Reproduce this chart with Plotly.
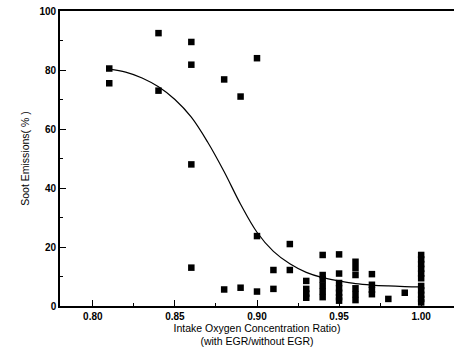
import plotly.graph_objects as go

# Measured points (x = intake O2 concentration ratio, y = soot emissions %)
pts_x = [0.81, 0.81,
         0.84, 0.84,
         0.86, 0.86, 0.86, 0.86,
         0.88, 0.88,
         0.89, 0.89,
         0.90, 0.90, 0.90,
         0.91, 0.91,
         0.92, 0.92,
         0.93, 0.93, 0.93, 0.93,
         0.94, 0.94, 0.94, 0.94, 0.94, 0.94,
         0.95, 0.95, 0.95, 0.95, 0.95, 0.95, 0.95,
         0.96, 0.96, 0.96, 0.96, 0.96, 0.96,
         0.97, 0.97, 0.97, 0.97,
         0.98,
         0.99,
         1.00, 1.00, 1.00, 1.00, 1.00, 1.00, 1.00, 1.00, 1.00, 1.00, 1.00]
pts_y = [80.5, 75.5,
         92.5, 73.0,
         89.5, 81.8, 48.0, 13.0,
         76.8, 5.6,
         71.0, 6.2,
         84.0, 23.7, 4.9,
         12.2, 5.8,
         21.0, 12.2,
         8.5, 5.8, 4.2, 2.8,
         17.3, 10.5, 9.0, 7.0, 5.0, 3.0,
         17.5, 11.0, 7.8, 6.0, 4.5, 3.0, 1.8,
         15.0, 12.8, 10.5, 6.0, 4.0, 2.0,
         10.8, 7.2, 5.5, 4.0,
         2.4,
         4.5,
         17.3, 15.8, 14.2, 12.6, 11.0, 9.4, 6.8, 5.3, 3.8, 2.4, 1.2]

# Fitted curve
fit_x = [0.81, 0.82, 0.83, 0.84, 0.85, 0.86, 0.87, 0.88, 0.89, 0.90,
         0.91, 0.92, 0.93, 0.94, 0.95, 0.96, 0.97, 0.98, 0.99, 1.00]
fit_y = [80.3, 79.3, 77.3, 74.3, 70.0, 64.0, 55.5, 45.5, 34.5, 25.0,
         18.5, 14.3, 11.4, 9.6, 8.5, 7.6, 7.1, 6.8, 6.6, 6.5]

x_ticks = [0.80, 0.85, 0.90, 0.95, 1.00]
x_ticklabels = ["0.80", "0.85", "0.90", "0.95", "1.00"]
y_ticks = [0, 20, 40, 60, 80, 100]

fig = go.Figure()
fig.add_trace(go.Scatter(x=fit_x, y=fit_y, mode="lines",
                         line=dict(color="black", width=1.2, shape="spline"),
                         showlegend=False, hoverinfo="skip"))
fig.add_trace(go.Scatter(x=pts_x, y=pts_y, mode="markers",
                         marker=dict(symbol="square", size=6.5, color="black",
                                     line=dict(width=0)),
                         showlegend=False))

tickfont = dict(family="Liberation Sans, Arial", size=10, color="black", weight="bold")
titlefont = dict(family="Liberation Sans, Arial", size=10.5, color="black")

fig.update_layout(
    width=454, height=359,
    margin=dict(l=60, r=0, t=11, b=53),
    paper_bgcolor="white", plot_bgcolor="white",
    xaxis=dict(range=[0.78, 1.02], tickvals=x_ticks, ticktext=x_ticklabels,
               ticks="inside", ticklen=6, tickwidth=1.2, tickcolor="black",
               minor=dict(dtick=0.025, tick0=0.775, ticks="inside", ticklen=3,
                          tickcolor="black", tickwidth=1),
               showgrid=False, zeroline=False,
               showline=True, linecolor="black", linewidth=1.6, mirror=True,
               tickfont=tickfont,
               title=dict(text="Intake Oxygen Concentration Ratio)<br>(with EGR/without EGR)",
                          font=titlefont, standoff=3)),
    yaxis=dict(range=[0, 100], tickvals=y_ticks,
               ticks="inside", ticklen=6, tickwidth=1.2, tickcolor="black",
               minor=dict(dtick=10, ticks="inside", ticklen=3,
                          tickcolor="black", tickwidth=1),
               showgrid=False, zeroline=False,
               showline=True, linecolor="black", linewidth=1.6,
               tickfont=tickfont,
               title=dict(text="Soot Emissions( % )", font=titlefont, standoff=8)),
)

fig.write_html("out.html")
